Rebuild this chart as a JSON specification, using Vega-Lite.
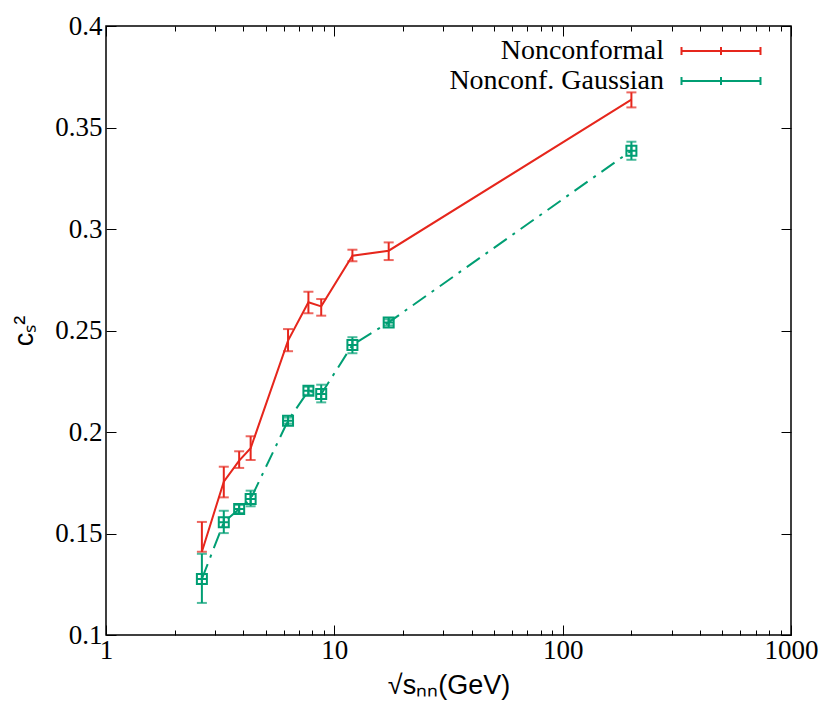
{
  "$schema": "https://vega.github.io/schema/vega-lite/v6.json",
  "width": 685,
  "height": 609,
  "autosize": "none",
  "padding": {"left": 106, "top": 26, "right": 39, "bottom": 92},
  "background": "white",
  "config": {
    "view": {"stroke": "#000", "strokeWidth": 1.5},
    "axis": {"labelFont": "Liberation Serif", "labelFontSize": 27, "labelColor": "#000", "titleFont": "Liberation Sans", "titleFontWeight": "normal", "titleFontSize": 27, "titleColor": "#000", "domain": false, "grid": false, "tickColor": "#000", "tickWidth": 1}
  },
  "data": {
    "values": [
      {"series": "Nonconformal", "x": 2.63, "y": 0.141, "lo": 0.141, "hi": 0.1557},
      {"series": "Nonconformal", "x": 3.28, "y": 0.1755, "lo": 0.1678, "hi": 0.1829},
      {"series": "Nonconformal", "x": 3.83, "y": 0.1859, "lo": 0.1823, "hi": 0.1905},
      {"series": "Nonconformal", "x": 4.3, "y": 0.192, "lo": 0.1862, "hi": 0.1979},
      {"series": "Nonconformal", "x": 6.27, "y": 0.245, "lo": 0.2398, "hi": 0.2507},
      {"series": "Nonconformal", "x": 7.7, "y": 0.2639, "lo": 0.2585, "hi": 0.2691},
      {"series": "Nonconformal", "x": 8.76, "y": 0.2619, "lo": 0.2573, "hi": 0.2655},
      {"series": "Nonconformal", "x": 12.0, "y": 0.2868, "lo": 0.2841, "hi": 0.2898},
      {"series": "Nonconformal", "x": 17.3, "y": 0.2893, "lo": 0.2847, "hi": 0.2934},
      {"series": "Nonconformal", "x": 200, "y": 0.3637, "lo": 0.3599, "hi": 0.3673},
      {"series": "Nonconf. Gaussian", "x": 2.63, "y": 0.1276, "lo": 0.1158, "hi": 0.14},
      {"series": "Nonconf. Gaussian", "x": 3.28, "y": 0.1555, "lo": 0.1502, "hi": 0.1612},
      {"series": "Nonconf. Gaussian", "x": 3.83, "y": 0.1621, "lo": 0.1601, "hi": 0.1641},
      {"series": "Nonconf. Gaussian", "x": 4.3, "y": 0.167, "lo": 0.1634, "hi": 0.1711},
      {"series": "Nonconf. Gaussian", "x": 6.27, "y": 0.2056, "lo": 0.2041, "hi": 0.2071},
      {"series": "Nonconf. Gaussian", "x": 7.7, "y": 0.2203, "lo": 0.2183, "hi": 0.2223},
      {"series": "Nonconf. Gaussian", "x": 8.76, "y": 0.2187, "lo": 0.2146, "hi": 0.2233},
      {"series": "Nonconf. Gaussian", "x": 12.0, "y": 0.2429, "lo": 0.2388, "hi": 0.2467},
      {"series": "Nonconf. Gaussian", "x": 17.3, "y": 0.254, "lo": 0.2525, "hi": 0.2555},
      {"series": "Nonconf. Gaussian", "x": 200, "y": 0.3386, "lo": 0.3341, "hi": 0.343}
    ]
  },
  "resolve": {"axis": {"x": "independent", "y": "independent"}},
  "layer": [
    {
      "transform": [{"filter": "datum.series === 'Nonconformal'"}],
      "mark": {"type": "line", "strokeWidth": 2},
      "encoding": {
        "x": {"field": "x", "type": "quantitative",
          "scale": {"type": "log", "domain": [1, 1000], "nice": false},
          "axis": {"orient": "bottom", "title": "√sₙₙ(GeV)", "titlePadding": 4,
            "values": [1,2,3,4,5,6,7,8,9,10,20,30,40,50,60,70,80,90,100,200,300,400,500,600,700,800,900,1000],
            "labelExpr": "indexof([1,10,100,1000], datum.value) >= 0 ? format(datum.value, 'd') : ''",
            "tickSize": {"condition": {"test": "indexof([1,10,100,1000], datum.value) >= 0", "value": -10}, "value": -5},
            "labelPadding": 12, "labelFlush": false, "labelOverlap": false}},
        "y": {"field": "y", "type": "quantitative",
          "scale": {"domain": [0.1, 0.4], "nice": false, "zero": false},
          "axis": {"orient": "left", "title": "cₛ²", "titlePadding": 16,
            "values": [0.1,0.15,0.2,0.25,0.3,0.35,0.4], "labelExpr": "format(datum.value, '~g')", "tickSize": -10, "labelPadding": 14}},
        "color": {"field": "series", "type": "nominal",
          "scale": {"domain": ["Nonconformal", "Nonconf. Gaussian"], "range": ["#e6261c", "#009e73"]},
          "legend": {"orient": "none", "legendX": 601, "legendY": 11, "title": null,
            "symbolType": "M-4,0H4M-4,-0.4V0.4M0,-0.4V0.4M4,-0.4V0.4",
            "symbolSize": 390, "symbolStrokeWidth": 2, "symbolFillColor": "transparent",
            "labelFont": "Liberation Serif", "labelFontSize": 28, "labelColor": "#000", "labelLimit": 0,
            "labelAlign": "right", "labelOffset": -71, "rowPadding": 2}}
      }
    },
    {
      "transform": [{"filter": "datum.series === 'Nonconf. Gaussian'"}],
      "mark": {"type": "line", "strokeWidth": 2, "strokeDash": [16, 7, 3, 7]},
      "encoding": {
        "x": {"field": "x", "type": "quantitative", "scale": {"type": "log", "domain": [1, 1000], "nice": false}, "axis": null},
        "y": {"field": "y", "type": "quantitative", "scale": {"domain": [0.1, 0.4], "nice": false, "zero": false}, "axis": null},
        "color": {"field": "series", "type": "nominal", "legend": null}
      }
    },
    {
      "mark": {"type": "rule", "strokeWidth": 2},
      "encoding": {
        "x": {"field": "x", "type": "quantitative", "scale": {"type": "log", "domain": [1, 1000], "nice": false},
          "axis": {"orient": "top", "title": null, "labels": false,
            "values": [1,2,3,4,5,6,7,8,9,10,20,30,40,50,60,70,80,90,100,200,300,400,500,600,700,800,900,1000],
            "tickSize": {"condition": {"test": "indexof([1,10,100,1000], datum.value) >= 0", "value": -10}, "value": -5}}},
        "y": {"field": "lo", "type": "quantitative", "scale": {"domain": [0.1, 0.4], "nice": false, "zero": false},
          "axis": {"orient": "right", "title": null, "labels": false, "values": [0.1,0.15,0.2,0.25,0.3,0.35,0.4], "tickSize": -10}},
        "y2": {"field": "hi"},
        "color": {"field": "series", "type": "nominal", "legend": null}
      }
    },
    {
      "mark": {"type": "tick", "orient": "horizontal", "size": 10, "thickness": 2},
      "encoding": {
        "x": {"field": "x", "type": "quantitative", "scale": {"type": "log", "domain": [1, 1000], "nice": false}, "axis": null},
        "y": {"field": "lo", "type": "quantitative", "scale": {"domain": [0.1, 0.4], "nice": false, "zero": false}, "axis": null},
        "color": {"field": "series", "type": "nominal", "legend": null}
      }
    },
    {
      "mark": {"type": "tick", "orient": "horizontal", "size": 10, "thickness": 2},
      "encoding": {
        "x": {"field": "x", "type": "quantitative", "scale": {"type": "log", "domain": [1, 1000], "nice": false}, "axis": null},
        "y": {"field": "hi", "type": "quantitative", "scale": {"domain": [0.1, 0.4], "nice": false, "zero": false}, "axis": null},
        "color": {"field": "series", "type": "nominal", "legend": null}
      }
    },
    {
      "transform": [{"filter": "datum.series === 'Nonconf. Gaussian'"}],
      "mark": {"type": "point", "shape": "M-1,-1H1V1H-1ZM0,-1V1M-1,0H1", "size": 100, "filled": false, "strokeWidth": 2, "opacity": 1},
      "encoding": {
        "x": {"field": "x", "type": "quantitative", "scale": {"type": "log", "domain": [1, 1000], "nice": false}, "axis": null},
        "y": {"field": "y", "type": "quantitative", "scale": {"domain": [0.1, 0.4], "nice": false, "zero": false}, "axis": null},
        "color": {"field": "series", "type": "nominal", "legend": null}
      }
    }
  ]
}
